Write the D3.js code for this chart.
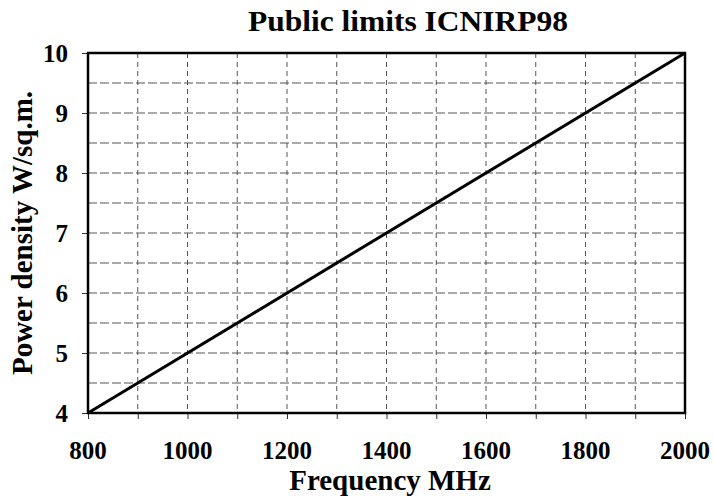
<!DOCTYPE html>
<html>
<head>
<meta charset="utf-8">
<script src="https://cdn.jsdelivr.net/npm/d3@7"></script>
<style>
  html, body { margin: 0; padding: 0; background: #fff; }
</style>
</head>
<body>
<svg id="chart" width="714" height="497"></svg>
<script>
// Data
const frequencies = [800, 2000];          // MHz
const powerDensity = [4, 10];             // W/sq.m.
const xTicks = [800, 1000, 1200, 1400, 1600, 1800, 2000];
const yTicks = [4, 5, 6, 7, 8, 9, 10];
const xGrid = [900, 1000, 1100, 1200, 1300, 1400, 1500, 1600, 1700, 1800, 1900];
const yGrid = [4.5, 5, 5.5, 6, 6.5, 7, 7.5, 8, 8.5, 9, 9.5];
const xMinor = [800, 900, 1000, 1100, 1200, 1300, 1400, 1500, 1600, 1700, 1800, 1900, 2000];
const titleText = "Public limits ICNIRP98";
const xLabel = "Frequency MHz";
const yLabel = "Power density W/sq.m.";

const FONT = '"Liberation Serif", "Times New Roman", Times, serif';
const svg = d3.select("#chart");
const margin = { left: 88, right: 29, top: 53, bottom: 84 };
const W = 714, H = 497;

const x = d3.scaleLinear().domain([800, 2000]).range([margin.left, W - margin.right]);
const y = d3.scaleLinear().domain([4, 10]).range([H - margin.bottom, margin.top]);

function styleText(sel, size) {
  return sel.style("font-family", FONT).style("font-weight", "bold")
    .style("font-size", size + "px").attr("fill", "#000");
}

// Grid
const grid = svg.append("g");
grid.selectAll("line.vg").data(xGrid).join("line")
  .attr("x1", d => x(d)).attr("x2", d => x(d))
  .attr("y1", y(10)).attr("y2", y(4))
  .attr("stroke", "#555").attr("stroke-width", 1).attr("stroke-dasharray", "5,4");
grid.selectAll("line.hg").data(yGrid).join("line")
  .attr("x1", x(800)).attr("x2", x(2000))
  .attr("y1", d => y(d)).attr("y2", d => y(d))
  .attr("stroke", "#555").attr("stroke-width", 1).attr("stroke-dasharray", "9,3");

// Axes ticks
const xAxis = d3.axisBottom(x).tickValues(xMinor).tickSize(6).tickFormat("");
svg.append("g").attr("transform", `translate(0,${y(4)})`).call(xAxis)
  .call(g => g.select(".domain").remove())
  .call(g => g.selectAll("line").attr("stroke", "#333").attr("stroke-width", 1));
const yAxis = d3.axisLeft(y).tickValues(yTicks).tickSize(6).tickFormat("");
svg.append("g").attr("transform", `translate(${x(800)},0)`).call(yAxis)
  .call(g => g.select(".domain").remove())
  .call(g => g.selectAll("line").attr("stroke", "#333").attr("stroke-width", 1));

// Tick labels
svg.append("g").selectAll("text").data(xTicks).join("text")
  .attr("x", d => x(d)).attr("y", 459)
  .attr("text-anchor", "middle")
  .call(styleText, 25)
  .text(d => d);
svg.append("g").selectAll("text").data(yTicks).join("text")
  .attr("x", 68).attr("y", d => y(d)).attr("dy", "0.35em")
  .attr("text-anchor", "end")
  .call(styleText, 25)
  .text(d => d);

// Frame
svg.append("rect")
  .attr("x", x(800)).attr("y", y(10))
  .attr("width", x(2000) - x(800)).attr("height", y(4) - y(10))
  .attr("fill", "none").attr("stroke", "#000").attr("stroke-width", 2.5);

// Data line
const line = d3.line().x(d => x(d[0])).y(d => y(d[1]));
svg.append("path")
  .datum(frequencies.map((f, i) => [f, powerDensity[i]]))
  .attr("d", line)
  .attr("fill", "none").attr("stroke", "#000").attr("stroke-width", 3);

// Titles
svg.append("text").attr("x", 408).attr("y", 31)
  .attr("text-anchor", "middle").call(styleText, 29)
  .attr("textLength", 320).attr("lengthAdjust", "spacingAndGlyphs")
  .text(titleText);
svg.append("text").attr("x", 390).attr("y", 490)
  .attr("text-anchor", "middle").call(styleText, 29).text(xLabel);
svg.append("text")
  .attr("transform", `translate(32,${(y(4) + y(10)) / 2}) rotate(-90)`)
  .attr("text-anchor", "middle").call(styleText, 29).text(yLabel);
</script>
</body>
</html>
